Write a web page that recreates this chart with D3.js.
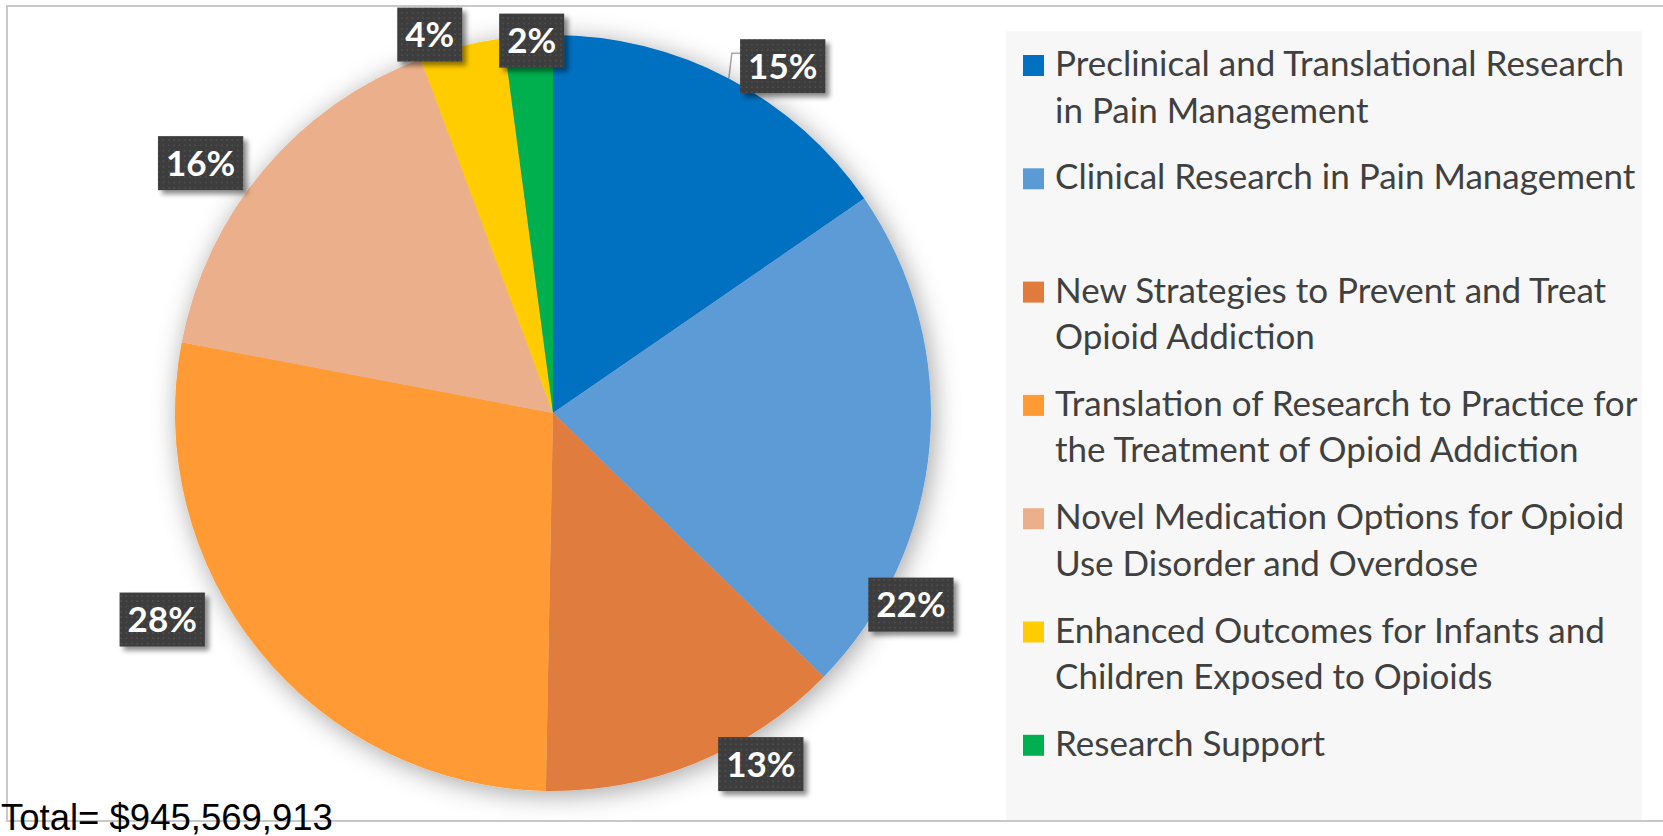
<!DOCTYPE html>
<html>
<head>
<meta charset="utf-8">
<script src="https://cdn.jsdelivr.net/npm/d3@7"></script>
<style>
  body { margin: 0; background: #fff; }
  svg { display: block; }
</style>
</head>
<body>
<div id="chart"></div>
<script>
// chart data
let categories = [
  "Preclinical and Translational Research in Pain Management",
  "Clinical Research in Pain Management",
  "New Strategies to Prevent and Treat Opioid Addiction",
  "Translation of Research to Practice for the Treatment of Opioid Addiction",
  "Novel Medication Options for Opioid Use Disorder and Overdose",
  "Enhanced Outcomes for Infants and Children Exposed to Opioids",
  "Research Support"
];
let legendLines = [
  ["Preclinical and Translational Research", "in Pain Management"],
  ["Clinical Research in Pain Management"],
  ["New Strategies to Prevent and Treat", "Opioid Addiction"],
  ["Translation of Research to Practice for", "the Treatment of Opioid Addiction"],
  ["Novel Medication Options for Opioid", "Use Disorder and Overdose"],
  ["Enhanced Outcomes for Infants and", "Children Exposed to Opioids"],
  ["Research Support"]
];
let shares = [15.4, 21.9, 13.0, 27.7, 16.3, 3.6, 2.1];
let colors = ["#0070C0", "#5B9BD5", "#E07B3C", "#FF9A35", "#EBB08B", "#FFCC00", "#00B050"];
let totalText = "Total= $945,569,913";

// manual label placement (angle shift from slice middle, in degrees, and radius)
let labelNudge = [
  { da: 5.8, r: 416, leader: true },
  { da: 23.3, r: 406 },
  { da: -8.3, r: 408 },
  { da: 11.2, r: 442 },
  { da: -4.8, r: 432 },
  { da: -4.0, r: 398 },
  { da: 0.5, r: 373 }
];

let svgWidth = 1663;
let svgHeight = 836;
let cx = 553, cy = 413, radius = 378;

let svg = d3.select("#chart")
  .append("svg")
  .attr("width", svgWidth)
  .attr("height", svgHeight);

let defs = svg.append("defs");

// soft shadow round the pie
let pieShadow = defs.append("filter")
  .attr("id", "pieShadow")
  .attr("x", "-20%").attr("y", "-20%")
  .attr("width", "140%").attr("height", "140%");
pieShadow.append("feDropShadow")
  .attr("dx", 3).attr("dy", 4)
  .attr("stdDeviation", 13)
  .attr("flood-color", "#000")
  .attr("flood-opacity", 0.36);

// shadow for label boxes
let boxShadow = defs.append("filter")
  .attr("id", "boxShadow")
  .attr("x", "-20%").attr("y", "-20%")
  .attr("width", "150%").attr("height", "150%");
boxShadow.append("feDropShadow")
  .attr("dx", 4).attr("dy", 4)
  .attr("stdDeviation", 2.5)
  .attr("flood-color", "#000")
  .attr("flood-opacity", 0.45);

// dotted texture on the label boxes
let dots = defs.append("pattern")
  .attr("id", "dots")
  .attr("patternUnits", "userSpaceOnUse")
  .attr("width", 5.3).attr("height", 5.3);
dots.append("rect")
  .attr("width", 5.3).attr("height", 5.3)
  .attr("fill", "#3d3d3d");
dots.append("rect")
  .attr("x", 2).attr("y", 2)
  .attr("width", 1.4).attr("height", 1.4)
  .attr("fill", "#575757");

// chart frame
svg.append("rect")
  .attr("x", 7)
  .attr("y", 6)
  .attr("width", svgWidth + 20)
  .attr("height", 815)
  .attr("fill", "none")
  .attr("stroke", "#c8c8c8")
  .attr("stroke-width", 2);

// legend panel
svg.append("rect")
  .attr("x", 1006)
  .attr("y", 31)
  .attr("width", 636)
  .attr("height", 789)
  .attr("fill", "#f7f7f7");

let pie = d3.pie()
  .sort(null)
  .value(d => d);

let arcs = pie(shares);

let arc = d3.arc()
  .innerRadius(0)
  .outerRadius(radius);

let pieGroup = svg.append("g")
  .attr("transform", `translate(${cx}, ${cy})`);

pieGroup.append("g")
  .attr("filter", "url(#pieShadow)")
  .selectAll("path")
  .data(arcs)
  .enter()
  .append("path")
  .attr("d", arc)
  .attr("fill", (d, i) => colors[i]);

// percent labels
let total = d3.sum(shares);
let polar = (a, r) => [r * Math.sin(a), -r * Math.cos(a)];

let boxH = 54;

arcs.forEach(function(d, i) {
  let nudge = labelNudge[i];
  let mid = (d.startAngle + d.endAngle) / 2;
  let [lx, ly] = polar(mid + nudge.da * Math.PI / 180, nudge.r);
  let label = Math.round(d.value / total * 100) + "%";

  let g = pieGroup.append("g");
  let txt = g.append("text")
    .attr("x", lx)
    .attr("y", ly)
    .attr("dy", "0.36em")
    .attr("text-anchor", "middle")
    .attr("font-family", "Lato, 'Open Sans', sans-serif")
    .attr("font-weight", "bold")
    .attr("font-size", "35px")
    .attr("fill", "#fff")
    .text(label);

  let boxW = txt.node().getComputedTextLength() + 16;

  g.insert("rect", "text")
    .attr("x", lx - boxW / 2)
    .attr("y", ly - boxH / 2)
    .attr("width", boxW)
    .attr("height", boxH)
    .attr("fill", "url(#dots)")
    .attr("filter", "url(#boxShadow)");

  if (nudge.leader) {
    let [sx, sy] = polar(mid, radius);
    let ey = ly - boxH / 2 + 14;
    pieGroup.insert("path", "g")
      .attr("d", `M${sx},${sy} L${sx + 3},${ey} L${lx - boxW / 2},${ey}`)
      .attr("fill", "none")
      .attr("stroke", "#a6a6a6")
      .attr("stroke-width", 1.5);
  }
});

// legend
let legendX = 1023, legendY = 55, itemPitch = 113.3, lineGap = 46.5;

let legend = svg.append("g")
  .attr("transform", `translate(${legendX}, ${legendY})`);

let items = legend.selectAll("g")
  .data(categories)
  .enter()
  .append("g")
  .attr("transform", (d, i) => `translate(0, ${i * itemPitch})`);

items.append("rect")
  .attr("width", 21)
  .attr("height", 21)
  .attr("fill", (d, i) => colors[i]);

items.each(function(d, i) {
  let t = d3.select(this).append("text")
    .attr("font-family", "Lato, 'Open Sans', sans-serif")
    .attr("font-size", "35px")
    .attr("fill", "#404040");
  legendLines[i].forEach(function(line, j) {
    t.append("tspan")
      .attr("x", 32)
      .attr("y", 21 + j * lineGap)
      .text(line);
  });
});

// total below the chart
svg.append("text")
  .attr("x", 1)
  .attr("y", 830)
  .attr("font-family", "'Liberation Sans', Arial, sans-serif")
  .attr("font-size", "36.5px")
  .attr("fill", "#000")
  .text(totalText);
</script>
</body>
</html>
